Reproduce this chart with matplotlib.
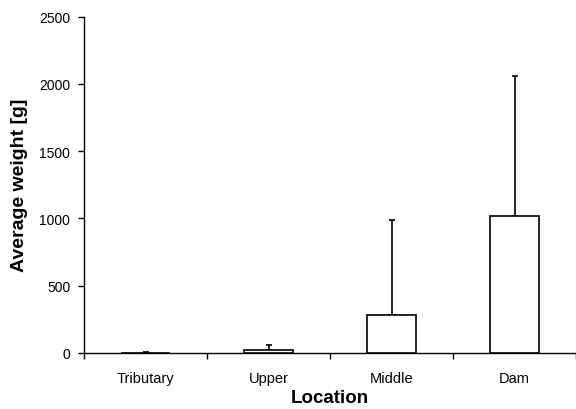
import matplotlib
matplotlib.use("Agg")
import matplotlib.pyplot as plt
import numpy as np

# mean weight and standard deviation per sampling location
locations = ["Tributary", "Upper", "Middle", "Dam"]
mean_weight = [2, 20, 285, 1015]
sd_weight = [5, 35, 700, 1045]

plt.rcParams["font.family"] = ["Liberation Sans", "DejaVu Sans"]

fig = plt.figure(figsize=(5.76, 4.10), dpi=100)
ax = fig.add_axes([0.146, 0.137, 0.854, 0.82])

x = np.arange(len(locations))
ax.bar(x, mean_weight, width=0.4, color="white", edgecolor="black", linewidth=1.2, zorder=3)
ax.errorbar(x, mean_weight, yerr=[np.zeros(len(x)), sd_weight], fmt="none",
            ecolor="black", elinewidth=1.2, capsize=2.5, capthick=1.2, zorder=2)

ax.set_xlim(-0.5, len(locations) - 0.5)
ax.set_ylim(0, 2500)
ax.set_yticks(np.arange(0, 2501, 500))

ax.set_xticks(x)
ax.set_xticklabels(locations, fontsize=10.5)
ax.set_xticks(np.arange(-0.5, len(locations)), minor=True)
ax.tick_params(axis="x", which="major", length=0, pad=13)
ax.tick_params(axis="x", which="minor", length=4, direction="out", width=1)
ax.tick_params(axis="y", labelsize=10, length=4, direction="out", width=1, pad=6)

for side in ("top", "right"):
    ax.spines[side].set_visible(False)
for side in ("left", "bottom"):
    ax.spines[side].set_linewidth(1.0)

ax.set_xlabel("Location", fontsize=13.5, fontweight="bold", labelpad=3)
ax.set_ylabel("Average weight [g]", fontsize=14, fontweight="bold", labelpad=8)

fig.savefig("out.png", dpi=100)
